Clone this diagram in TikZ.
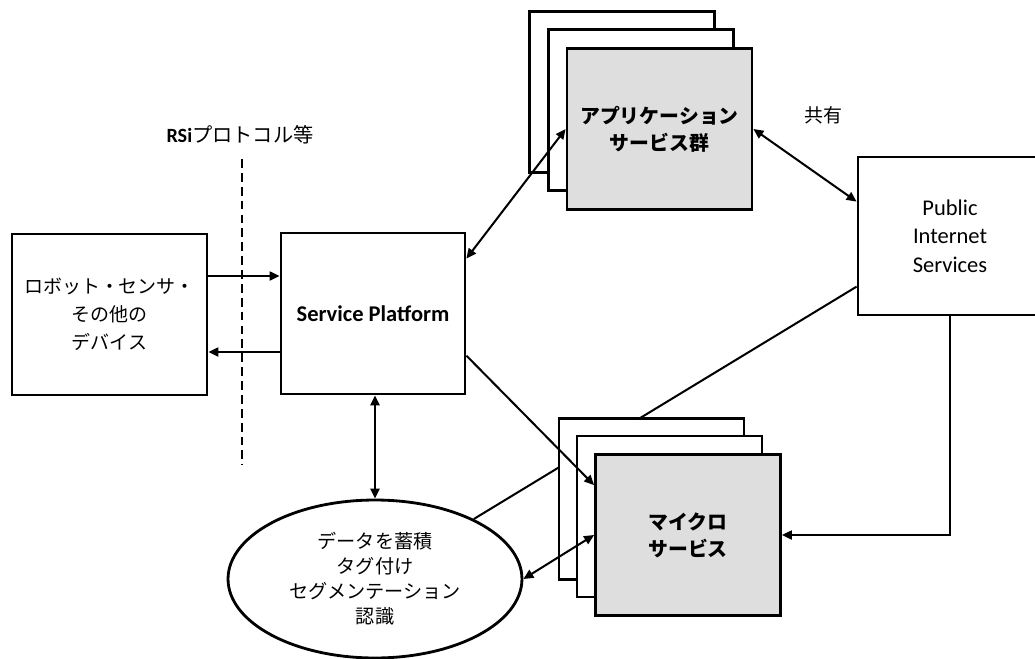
\documentclass[tikz,border=0pt]{standalone}
\usepackage{fontspec}
\setmainfont{Carlito}
\newfontfamily\jp{Noto Sans CJK JP}
\usetikzlibrary{arrows.meta,shapes.geometric,calc}
\begin{document}
\begin{tikzpicture}[x=0.02cm,y=-0.02cm,
  >={Triangle[length=2mm,width=1.8mm]},
  box/.style={draw,line width=1.6pt,rectangle,inner sep=0pt,align=center},
  stackbox/.style={box,fill=white,minimum width=3.7cm,minimum height=3.22cm},
  stackfront/.style={box,fill=black!13,minimum width=3.7cm,minimum height=3.22cm,
     font=\jp\bfseries\fontsize{11.3}{15.3}\selectfont},
  conn/.style={line width=1.15pt},
  jtext/.style={font=\jp\fontsize{10.8}{15.9}\selectfont},
]
\useasboundingbox (0,0) rectangle (1035,659);
\clip (0,0) rectangle (1035,659);

% main nodes
\node[box,jtext,minimum width=3.9cm,minimum height=3.22cm] (dev) at (109.5,314.5)
  {ロボット・センサ・\\その他の\\デバイス};
\node[box,minimum width=3.68cm,minimum height=3.22cm,
  font=\bfseries\fontsize{12.8}{14}\selectfont] (sp) at (373,313.5) {Service Platform};
\node[box,minimum width=3.68cm,minimum height=3.16cm,
  font=\fontsize{12.8}{16.2}\selectfont] (pub) at (950,236) {Public\\Internet\\Services};
\node[draw,ellipse,line width=1.6pt,inner sep=0pt,minimum width=5.88cm,minimum height=3.16cm,
  align=center,font=\jp\fontsize{10.9}{14.2}\selectfont] (ell) at (375,579)
  {データを蓄積\\タグ付け\\セグメンテーション\\認識};

% line hidden behind the micro service stack
\draw[conn] ($(pub.north west)+(0,131)$) -- (ell);

% stacks
\node[stackbox] (appb) at (622,92) {};
\node[stackbox] (appm) at (641,110) {};
\node[stackfront] (app) at (659.5,129) {アプリケーション\\サービス群};
\node[stackbox] (micb) at (651.5,499) {};
\node[stackbox] (micm) at (669.5,516.5) {};
\node[stackfront] (micro) at (688,535) {マイクロ\\サービス};

% labels
\node[font=\fontsize{11.5}{13}\selectfont] (rsi) at (240,135) {\textbf{RSi}{\jp プロトコル等}};
\node[font=\jp\fontsize{10.8}{13}\selectfont] (share) at (823,115) {共有};

% dashed boundary
\coordinate (d1) at (242,159);
\coordinate (d2) at (242,465);
\draw[line width=1.6pt,dash pattern=on 5pt off 2.9pt] (d1) -- (d2);

% connectors
\draw[conn,->] (dev.east |- 0,276) -- (sp.west |- 0,276);
\draw[conn,->] (sp.west |- 0,352) -- (dev.east |- 0,352);
\draw[line width=1.6pt,<->] (sp.south -| ell.north) -- (ell.north);
\draw[conn,<->] ($(sp.north east)+(0,27)$) -- (app.west);
\draw[conn,<->] (app.east) -- ($(pub.north west)+(0,46)$);
\draw[conn,->] ($(sp.north east)+(0,124)$) -- ($(micro.north west)+(0,32)$);
\draw[conn,<->] (micro.west) -- (ell.east);
\draw[conn,->] (pub.south) |- (micro.east);
\end{tikzpicture}
\end{document}
